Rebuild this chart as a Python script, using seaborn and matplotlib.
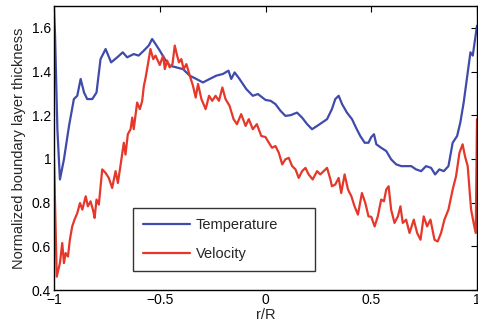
import numpy as np
import pandas as pd
import matplotlib
matplotlib.use("Agg")
import matplotlib.pyplot as plt
import seaborn as sns

# Temperature series (r/R, normalized thickness)
temp_x = [-1.0, -0.995, -0.984, -0.972, -0.953, -0.929, -0.906, -0.89, -0.874, -0.858, -0.843,
          -0.819, -0.799, -0.78, -0.756, -0.73, -0.701, -0.675, -0.654, -0.623, -0.6, -0.575,
          -0.552, -0.536, -0.52, -0.5, -0.476, -0.453, -0.421, -0.39, -0.358, -0.327, -0.296,
          -0.264, -0.233, -0.201, -0.175, -0.162, -0.146, -0.123, -0.091, -0.06, -0.036, 0.0,
          0.024, 0.047, 0.071, 0.094, 0.118, 0.149, 0.173, 0.197, 0.22, 0.244, 0.267, 0.291,
          0.314, 0.33, 0.346, 0.362, 0.385, 0.409, 0.428, 0.448, 0.469, 0.487, 0.5, 0.513,
          0.524, 0.547, 0.571, 0.594, 0.618, 0.642, 0.665, 0.689, 0.712, 0.736, 0.759, 0.783,
          0.802, 0.822, 0.843, 0.865, 0.885, 0.906, 0.921, 0.937, 0.953, 0.969, 0.98, 0.991, 1.0]
temp_y = [1.68, 1.565, 1.136, 0.906, 0.998, 1.151, 1.274, 1.289, 1.366, 1.304, 1.274,
          1.274, 1.304, 1.457, 1.503, 1.442, 1.465, 1.488, 1.465, 1.48, 1.473, 1.496,
          1.519, 1.549, 1.526, 1.496, 1.457, 1.427, 1.419, 1.411, 1.381, 1.366, 1.35,
          1.366, 1.381, 1.389, 1.404, 1.366, 1.396, 1.366, 1.32, 1.289, 1.297, 1.27,
          1.266, 1.251, 1.22, 1.197, 1.2, 1.212, 1.189, 1.159, 1.136, 1.151, 1.166, 1.182,
          1.228, 1.274, 1.289, 1.251, 1.212, 1.182, 1.143, 1.105, 1.074, 1.074, 1.1, 1.113,
          1.067, 1.051, 1.036, 0.998, 0.975, 0.967, 0.967, 0.967, 0.952, 0.944, 0.967, 0.959,
          0.929, 0.952, 0.944, 0.967, 1.074, 1.105, 1.166, 1.258, 1.373, 1.488, 1.473, 1.549, 1.61]

# Velocity series (r/R, normalized thickness)
vel_x = [-1.0, -0.987, -0.972, -0.961, -0.953, -0.945, -0.934, -0.925, -0.914, -0.903, -0.89,
         -0.877, -0.866, -0.85, -0.84, -0.827, -0.814, -0.808, -0.799, -0.788, -0.772, -0.756,
         -0.741, -0.725, -0.709, -0.698, -0.686, -0.67, -0.662, -0.651, -0.638, -0.63, -0.623,
         -0.607, -0.594, -0.583, -0.575, -0.568, -0.557, -0.544, -0.531, -0.52, -0.5, -0.484,
         -0.476, -0.465, -0.453, -0.44, -0.429, -0.418, -0.409, -0.398, -0.387, -0.374, -0.358,
         -0.343, -0.33, -0.319, -0.303, -0.283, -0.267, -0.252, -0.236, -0.22, -0.204, -0.189,
         -0.17, -0.151, -0.135, -0.115, -0.094, -0.079, -0.06, -0.041, -0.02, 0.0, 0.016,
         0.031, 0.047, 0.063, 0.079, 0.094, 0.11, 0.126, 0.142, 0.157, 0.173, 0.189, 0.204,
         0.223, 0.244, 0.259, 0.275, 0.291, 0.307, 0.314, 0.33, 0.346, 0.358, 0.374, 0.39,
         0.406, 0.421, 0.437, 0.456, 0.472, 0.487, 0.5, 0.516, 0.531, 0.547, 0.56, 0.571,
         0.582, 0.594, 0.61, 0.626, 0.638, 0.649, 0.665, 0.681, 0.701, 0.717, 0.733, 0.748,
         0.764, 0.78, 0.799, 0.814, 0.83, 0.846, 0.865, 0.885, 0.901, 0.917, 0.932, 0.943,
         0.956, 0.972, 0.984, 0.994, 1.0]
vel_y = [1.0, 0.461, 0.523, 0.615, 0.523, 0.569, 0.553, 0.63, 0.691, 0.722, 0.752,
         0.798, 0.768, 0.829, 0.783, 0.806, 0.76, 0.73, 0.814, 0.791, 0.952, 0.936,
         0.913, 0.867, 0.944, 0.89, 0.967, 1.074, 1.02, 1.113, 1.136, 1.189, 1.136,
         1.258, 1.228, 1.266, 1.335, 1.366, 1.427, 1.503, 1.457, 1.473, 1.43, 1.473,
         1.411, 1.45, 1.419, 1.434, 1.519, 1.473, 1.442, 1.457, 1.411, 1.434, 1.381,
         1.335, 1.281, 1.343, 1.274, 1.228, 1.289, 1.266, 1.289, 1.266, 1.327, 1.274,
         1.243, 1.182, 1.159, 1.205, 1.151, 1.182, 1.136, 1.159, 1.105, 1.1, 1.074,
         1.051, 1.059, 1.028, 0.975, 0.998, 1.005, 0.967, 0.952, 0.913, 0.944, 0.959, 0.929,
         0.906, 0.944, 0.929, 0.944, 0.959, 0.906, 0.875, 0.883, 0.913, 0.844, 0.929, 0.86,
         0.829, 0.783, 0.745, 0.844, 0.798, 0.737, 0.735, 0.691, 0.737, 0.814, 0.806, 0.86,
         0.875, 0.768, 0.707, 0.737, 0.783, 0.707, 0.722, 0.661, 0.722, 0.661, 0.63, 0.737,
         0.691, 0.722, 0.63, 0.622, 0.661, 0.722, 0.768, 0.86, 0.921, 1.028, 1.067, 1.013,
         0.967, 0.768, 0.707, 0.661, 1.182]

df = pd.concat([
    pd.DataFrame({"r": temp_x, "t": temp_y, "series": "Temperature"}),
    pd.DataFrame({"r": vel_x, "t": vel_y, "series": "Velocity"}),
], ignore_index=True)

sns.set_style("white")
plt.rcParams["font.family"] = ["Liberation Sans", "DejaVu Sans"]

fig = plt.figure(figsize=(4.78, 3.29), dpi=100)
ax = fig.add_axes([54/478, 1 - 290/329, (477-54)/478, (290-6)/329])

sns.lineplot(data=df, x="r", y="t", hue="series", estimator=None, sort=False,
             palette={"Temperature": "#3f4bab", "Velocity": "#e5382a"},
             linewidth=1.6, ax=ax)

ax.set_xlim(-1, 1)
ax.set_ylim(0.4, 1.7)
ax.set_xticks([-1, -0.5, 0, 0.5, 1])
ax.set_xticklabels(["\u22121", "\u22120.5", "0", "0.5", "1"])
ax.set_yticks([0.4, 0.6, 0.8, 1.0, 1.2, 1.4, 1.6])
ax.set_yticklabels(["0.4", "0.6", "0.8", "1", "1.2", "1.4", "1.6"])
ax.tick_params(direction="in", length=4, width=0.8, top=True, right=True,
               labelsize=10, colors="black", pad=2)
for s in ax.spines.values():
    s.set_color("black")
    s.set_linewidth(1.0)
ax.set_xlabel("r/R", fontsize=10.5, labelpad=1)
ax.set_ylabel("Normalized boundary layer thickness", fontsize=10.5, labelpad=4)

leg = ax.legend(loc="lower left",
                bbox_to_anchor=((133-54)/423, (290-271)/284, (315-133)/423, (271-207)/284),
                mode="expand", frameon=True, fancybox=False, fontsize=10.5,
                handlelength=3.2, handletextpad=0.4, borderpad=0.7, labelspacing=1.0,
                borderaxespad=0)
leg.get_frame().set_edgecolor("black")
leg.get_frame().set_linewidth(1.0)
ax.grid(False)

fig.savefig("out.png", dpi=100)
